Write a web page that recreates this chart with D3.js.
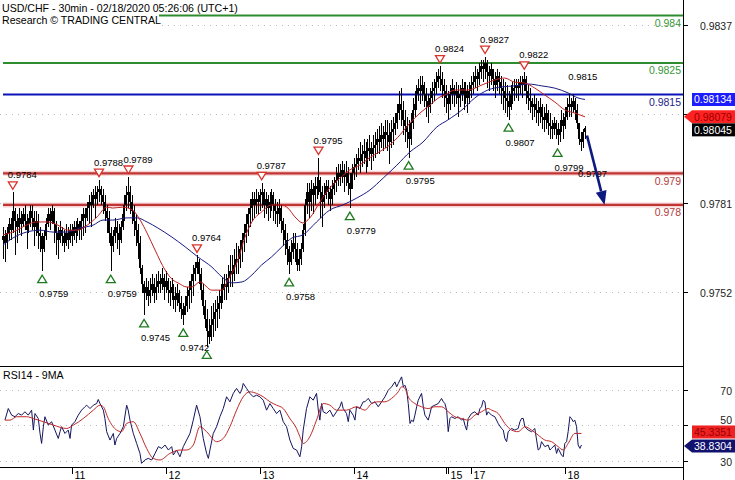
<!DOCTYPE html>
<html><head><meta charset="utf-8">
<script src="https://cdn.jsdelivr.net/npm/d3@7"></script>
<style>body{margin:0;background:#fff}svg{display:block}text{font-family:"Liberation Sans",Arial,sans-serif}</style>
</head><body><svg id="c" width="735" height="480"></svg>
<script>
// ---- 30-min USD/CHF bars ----
const opens=[0.9769,0.9770,0.9768,0.9771,0.9774,0.9772,0.9778,0.9775,0.9773,0.9776,
0.9774,0.9777,0.9775,0.9772,0.9774,0.9778,0.9776,0.9773,0.9775,0.9771,
0.9770,0.9766,0.9770,0.9774,0.9777,0.9775,0.9778,0.9774,0.9771,0.9769,
0.9772,0.9770,0.9768,0.9771,0.9769,0.9772,0.9770,0.9773,0.9771,0.9774,
0.9772,0.9775,0.9777,0.9776,0.9779,0.9781,0.9780,0.9783,0.9782,0.9784,
0.9785,0.9783,0.9781,0.9778,0.9776,0.9771,0.9767,0.9770,0.9773,0.9771,
0.9769,0.9773,0.9777,0.9780,0.9783,0.9784,0.9781,0.9778,0.9775,0.9772,
0.9768,0.9760,0.9755,0.9752,0.9754,0.9751,0.9753,0.9755,0.9752,0.9754,
0.9756,0.9755,0.9757,0.9754,0.9756,0.9753,0.9752,0.9754,0.9751,0.9750,
0.9752,0.9749,0.9747,0.9745,0.9748,0.9751,0.9753,0.9756,0.9758,0.9760,
0.9762,0.9758,0.9753,0.9748,0.9744,0.9740,0.9738,0.9742,0.9744,0.9746,
0.9747,0.9749,0.9751,0.9753,0.9755,0.9754,0.9757,0.9759,0.9758,0.9761,
0.9763,0.9763,0.9766,0.9769,0.9771,0.9774,0.9777,0.9779,0.9782,0.9780,
0.9782,0.9781,0.9783,0.9784,0.9780,0.9782,0.9779,0.9781,0.9783,0.9780,
0.9778,0.9777,0.9779,0.9775,0.9772,0.9769,0.9766,0.9762,0.9765,0.9768,
0.9766,0.9761,0.9763,0.9766,0.9772,0.9780,0.9784,0.9781,0.9785,0.9783,
0.9786,0.9785,0.9788,0.9784,0.9781,0.9783,0.9786,0.9784,0.9782,0.9785,
0.9787,0.9788,0.9790,0.9789,0.9791,0.9789,0.9790,0.9787,0.9785,0.9790,
0.9792,0.9793,0.9795,0.9794,0.9796,0.9797,0.9795,0.9797,0.9798,0.9796,
0.9798,0.9799,0.9801,0.9800,0.9802,0.9801,0.9803,0.9802,0.9800,0.9803,
0.9804,0.9806,0.9809,0.9812,0.9810,0.9807,0.9805,0.9803,0.9801,0.9806,
0.9810,0.9812,0.9815,0.9817,0.9816,0.9818,0.9815,0.9813,0.9811,0.9814,
0.9816,0.9817,0.9819,0.9821,0.9820,0.9818,0.9816,0.9814,0.9812,0.9815,
0.9817,0.9815,0.9816,0.9814,0.9815,0.9817,0.9815,0.9816,0.9814,0.9816,
0.9818,0.9819,0.9821,0.9820,0.9822,0.9824,0.9823,0.9825,0.9822,0.9821,
0.9823,0.9820,0.9818,0.9821,0.9819,0.9817,0.9816,0.9814,0.9813,0.9811,
0.9815,0.9816,0.9817,0.9818,0.9817,0.9819,0.9818,0.9820,0.9816,0.9814,
0.9813,0.9811,0.9812,0.9810,0.9809,0.9811,0.9808,0.9807,0.9809,0.9806,
0.9805,0.9804,0.9806,0.9804,0.9802,0.9804,0.9807,0.9805,0.9808,0.9811,
0.9812,0.9811,0.9813,0.9810,0.9806,0.9801,0.9800,0.9803];
const highs=[0.9773,0.9772,0.9773,0.9776,0.9776,0.9784,0.9779,0.9777,0.9779,0.9778,
0.9779,0.9780,0.9777,0.9776,0.9780,0.9780,0.9778,0.9778,0.9777,0.9773,
0.9771,0.9772,0.9776,0.9779,0.9779,0.9780,0.9779,0.9775,0.9773,0.9775,
0.9773,0.9772,0.9774,0.9773,0.9774,0.9774,0.9775,0.9775,0.9776,0.9775,
0.9777,0.9779,0.9779,0.9781,0.9783,0.9784,0.9785,0.9786,0.9786,0.9788,
0.9786,0.9785,0.9783,0.9780,0.9778,0.9773,0.9772,0.9776,0.9775,0.9774,
0.9775,0.9779,0.9783,0.9786,0.9789,0.9786,0.9783,0.9780,0.9777,0.9774,
0.9770,0.9761,0.9756,0.9757,0.9756,0.9757,0.9758,0.9757,0.9758,0.9759,
0.9758,0.9760,0.9758,0.9759,0.9757,0.9756,0.9757,0.9755,0.9754,0.9755,
0.9753,0.9751,0.9749,0.9751,0.9754,0.9756,0.9758,0.9761,0.9762,0.9764,
0.9763,0.9760,0.9755,0.9750,0.9747,0.9744,0.9748,0.9749,0.9750,0.9751,
0.9753,0.9755,0.9757,0.9758,0.9758,0.9761,0.9764,0.9764,0.9766,0.9768,
0.9767,0.9769,0.9771,0.9774,0.9777,0.9779,0.9782,0.9784,0.9784,0.9785,
0.9784,0.9785,0.9787,0.9785,0.9784,0.9783,0.9784,0.9785,0.9784,0.9782,
0.9781,0.9782,0.9780,0.9776,0.9774,0.9771,0.9767,0.9769,0.9771,0.9771,
0.9768,0.9766,0.9768,0.9774,0.9782,0.9787,0.9787,0.9788,0.9787,0.9789,
0.9789,0.9795,0.9789,0.9786,0.9787,0.9788,0.9788,0.9786,0.9788,0.9789,
0.9792,0.9793,0.9793,0.9794,0.9793,0.9794,0.9792,0.9790,0.9793,0.9795,
0.9796,0.9798,0.9800,0.9799,0.9801,0.9800,0.9801,0.9802,0.9800,0.9802,
0.9803,0.9804,0.9805,0.9806,0.9805,0.9807,0.9807,0.9806,0.9807,0.9808,
0.9809,0.9812,0.9816,0.9817,0.9813,0.9810,0.9808,0.9807,0.9809,0.9814,
0.9816,0.9818,0.9820,0.9821,0.9821,0.9819,0.9817,0.9815,0.9817,0.9819,
0.9820,0.9822,0.9823,0.9824,0.9822,0.9820,0.9818,0.9816,0.9818,0.9820,
0.9818,0.9819,0.9818,0.9818,0.9820,0.9819,0.9819,0.9818,0.9819,0.9821,
0.9822,0.9824,0.9823,0.9825,0.9826,0.9826,0.9827,0.9826,0.9824,0.9825,
0.9823,0.9822,0.9823,0.9822,0.9821,0.9820,0.9819,0.9818,0.9816,0.9818,
0.9819,0.9820,0.9820,0.9820,0.9821,0.9821,0.9822,0.9821,0.9818,0.9817,
0.9814,0.9815,0.9814,0.9813,0.9814,0.9812,0.9811,0.9812,0.9810,0.9809,
0.9807,0.9808,0.9807,0.9806,0.9807,0.9810,0.9809,0.9811,0.9814,0.9815,
0.9814,0.9815,0.9814,0.9812,0.9806,0.9803,0.9804,0.9805];
const lows=[0.9763,0.9762,0.9766,0.9769,0.9769,0.9771,0.9764,0.9768,0.9771,0.9770,
0.9773,0.9772,0.9766,0.9771,0.9773,0.9772,0.9767,0.9770,0.9766,0.9765,
0.9759,0.9765,0.9769,0.9773,0.9772,0.9774,0.9768,0.9764,0.9763,0.9768,
0.9767,0.9765,0.9767,0.9766,0.9768,0.9767,0.9769,0.9768,0.9770,0.9769,
0.9769,0.9770,0.9771,0.9775,0.9774,0.9773,0.9779,0.9776,0.9780,0.9781,
0.9780,0.9777,0.9775,0.9771,0.9768,0.9759,0.9765,0.9768,0.9766,0.9764,
0.9768,0.9772,0.9775,0.9778,0.9779,0.9777,0.9774,0.9770,0.9767,0.9763,
0.9758,0.9752,0.9745,0.9750,0.9748,0.9749,0.9751,0.9749,0.9750,0.9752,
0.9752,0.9753,0.9750,0.9752,0.9749,0.9748,0.9750,0.9747,0.9746,0.9748,
0.9746,0.9744,0.9742,0.9745,0.9746,0.9747,0.9749,0.9751,0.9756,0.9758,
0.9755,0.9750,0.9745,0.9741,0.9735,0.9736,0.9737,0.9738,0.9740,0.9741,
0.9744,0.9747,0.9749,0.9750,0.9750,0.9752,0.9754,0.9754,0.9756,0.9758,
0.9758,0.9760,0.9762,0.9765,0.9768,0.9770,0.9773,0.9775,0.9776,0.9777,
0.9777,0.9778,0.9779,0.9776,0.9777,0.9775,0.9776,0.9778,0.9775,0.9774,
0.9773,0.9774,0.9771,0.9767,0.9764,0.9761,0.9758,0.9761,0.9763,0.9762,
0.9759,0.9759,0.9761,0.9765,0.9770,0.9777,0.9776,0.9778,0.9777,0.9780,
0.9782,0.9783,0.9776,0.9773,0.9779,0.9782,0.9780,0.9778,0.9780,0.9783,
0.9784,0.9786,0.9786,0.9787,0.9784,0.9786,0.9783,0.9779,0.9785,0.9788,
0.9789,0.9791,0.9790,0.9792,0.9793,0.9790,0.9792,0.9794,0.9791,0.9794,
0.9795,0.9796,0.9796,0.9798,0.9797,0.9798,0.9797,0.9793,0.9798,0.9799,
0.9802,0.9804,0.9807,0.9805,0.9802,0.9800,0.9798,0.9795,0.9799,0.9804,
0.9808,0.9810,0.9813,0.9812,0.9813,0.9811,0.9808,0.9806,0.9809,0.9812,
0.9813,0.9815,0.9817,0.9816,0.9814,0.9811,0.9809,0.9807,0.9810,0.9812,
0.9811,0.9812,0.9808,0.9811,0.9813,0.9810,0.9812,0.9809,0.9812,0.9814,
0.9815,0.9817,0.9816,0.9818,0.9820,0.9819,0.9820,0.9817,0.9816,0.9818,
0.9816,0.9814,0.9816,0.9815,0.9812,0.9810,0.9809,0.9808,0.9807,0.9810,
0.9812,0.9813,0.9814,0.9813,0.9815,0.9814,0.9816,0.9812,0.9810,0.9809,
0.9807,0.9808,0.9806,0.9805,0.9806,0.9804,0.9803,0.9804,0.9802,0.9801,
0.9801,0.9802,0.9801,0.9799,0.9800,0.9803,0.9801,0.9804,0.9807,0.9808,
0.9808,0.9809,0.9807,0.9804,0.9799,0.9797,0.9798,0.9801];
const closes=[0.9770,0.9768,0.9771,0.9774,0.9772,0.9778,0.9775,0.9773,0.9776,0.9774,
0.9777,0.9775,0.9772,0.9774,0.9778,0.9776,0.9773,0.9775,0.9771,0.9770,
0.9766,0.9770,0.9774,0.9777,0.9775,0.9778,0.9774,0.9771,0.9769,0.9772,
0.9770,0.9768,0.9771,0.9769,0.9772,0.9770,0.9773,0.9771,0.9774,0.9772,
0.9775,0.9777,0.9776,0.9779,0.9781,0.9780,0.9783,0.9782,0.9784,0.9785,
0.9783,0.9781,0.9778,0.9776,0.9771,0.9767,0.9770,0.9773,0.9771,0.9769,
0.9773,0.9777,0.9780,0.9783,0.9784,0.9781,0.9778,0.9775,0.9772,0.9768,
0.9760,0.9755,0.9752,0.9754,0.9751,0.9753,0.9755,0.9752,0.9754,0.9756,
0.9755,0.9757,0.9754,0.9756,0.9753,0.9752,0.9754,0.9751,0.9750,0.9752,
0.9749,0.9747,0.9745,0.9748,0.9751,0.9753,0.9756,0.9758,0.9760,0.9762,
0.9758,0.9753,0.9748,0.9744,0.9740,0.9738,0.9742,0.9744,0.9746,0.9747,
0.9749,0.9751,0.9753,0.9755,0.9754,0.9757,0.9759,0.9758,0.9761,0.9763,
0.9763,0.9766,0.9769,0.9771,0.9774,0.9777,0.9779,0.9782,0.9780,0.9782,
0.9781,0.9783,0.9784,0.9780,0.9782,0.9779,0.9781,0.9783,0.9780,0.9778,
0.9777,0.9779,0.9775,0.9772,0.9769,0.9766,0.9762,0.9765,0.9768,0.9766,
0.9761,0.9763,0.9766,0.9772,0.9780,0.9784,0.9781,0.9785,0.9783,0.9786,
0.9785,0.9788,0.9784,0.9781,0.9783,0.9786,0.9784,0.9782,0.9785,0.9787,
0.9788,0.9790,0.9789,0.9791,0.9789,0.9790,0.9787,0.9785,0.9790,0.9792,
0.9793,0.9795,0.9794,0.9796,0.9797,0.9795,0.9797,0.9798,0.9796,0.9798,
0.9799,0.9801,0.9800,0.9802,0.9801,0.9803,0.9802,0.9800,0.9803,0.9804,
0.9806,0.9809,0.9812,0.9810,0.9807,0.9805,0.9803,0.9801,0.9806,0.9810,
0.9812,0.9815,0.9817,0.9816,0.9818,0.9815,0.9813,0.9811,0.9814,0.9816,
0.9817,0.9819,0.9821,0.9820,0.9818,0.9816,0.9814,0.9812,0.9815,0.9817,
0.9815,0.9816,0.9814,0.9815,0.9817,0.9815,0.9816,0.9814,0.9816,0.9818,
0.9819,0.9821,0.9820,0.9822,0.9824,0.9823,0.9825,0.9822,0.9821,0.9823,
0.9820,0.9818,0.9821,0.9819,0.9817,0.9816,0.9814,0.9813,0.9811,0.9815,
0.9816,0.9817,0.9818,0.9817,0.9819,0.9818,0.9820,0.9816,0.9814,0.9813,
0.9811,0.9812,0.9810,0.9809,0.9811,0.9808,0.9807,0.9809,0.9806,0.9805,
0.9804,0.9806,0.9804,0.9802,0.9804,0.9807,0.9805,0.9808,0.9811,0.9812,
0.9811,0.9813,0.9810,0.9806,0.9801,0.9800,0.9803,0.98045];

// moving averages on price: [bar index, value]
const maRed=[[0,0.97705],[5,0.97714],[12,0.97736],[17,0.97746],[23,0.97746],[28,0.97736],[33,0.97720],[38,0.97720],[43,0.97736],[48,0.97762],[53,0.97793],[56,0.97790],[61,0.97793],[66,0.97784],[70,0.97752],[73.5,0.97711],[77.6,0.97657],[82.7,0.97594],[86.7,0.97562],[89.3,0.97553],[93.9,0.97540],[96.4,0.97540],[100.5,0.97556],[106.6,0.97530],[111.7,0.97530],[114.8,0.97562],[119.9,0.97626],[123.5,0.97698],[127,0.97746],[132,0.97778],[137,0.97800],[142,0.97800],[145.4,0.97790],[149,0.97762],[153,0.97743],[156.6,0.97759],[161.7,0.97809],[166.8,0.97854],[172,0.97885],[177,0.97911],[182,0.97926],[187,0.97949],[192,0.97968],[197.4,0.97990],[202.6,0.98022],[207.7,0.98060],[212.8,0.98091],[218,0.98117],[223,0.98142],[225.5,0.98148],[230.6,0.98164],[237.2,0.98164],[244.4,0.98180],[251,0.98196],[256,0.98202],[261,0.98189],[266.3,0.98186],[271.4,0.98170],[276.5,0.98148],[281.6,0.98126],[286.7,0.98101],[291.8,0.98091],[297,0.98079]];
const maNavy=[[0,0.97673],[5,0.97695],[12,0.97714],[19,0.97720],[25.5,0.97714],[32.7,0.97714],[39.3,0.97727],[46,0.97736],[51,0.97752],[56,0.97752],[63.3,0.97759],[68.4,0.97759],[73.5,0.97746],[79,0.97727],[86.2,0.97698],[93,0.97667],[99.5,0.97635],[106.6,0.97603],[111.7,0.97572],[116.8,0.97553],[122,0.97556],[127,0.97578],[132,0.97610],[137,0.97635],[142.3,0.97667],[147.4,0.97695],[153,0.97705],[160,0.97746],[166.8,0.97784],[173.5,0.97800],[180.6,0.97822],[187.2,0.97847],[194,0.97885],[201,0.97926],[207.7,0.97968],[214.3,0.97999],[221.4,0.98047],[227,0.98069],[234.2,0.98101],[240.8,0.98139],[247.4,0.98164],[254.6,0.98174],[261.2,0.98177],[268,0.98183],[275,0.98177],[281.6,0.98170],[288.3,0.98155],[293.4,0.98139],[297,0.98134]];

// RSI14 and its 9MA: [bar index, value]
const rsi=[[1,52.8],[2.7,59.3],[4.4,55.6],[6.1,54.7],[7.8,56.5],[9.5,55.6],[11.2,57.5],[12.9,55.6],[14.6,58.4],[15.5,47.2],[16.3,56.5],[18,53.7],[18.9,45.3],[19.7,39.7],[20.6,49.1],[21.4,54.7],[23.1,50],[24.8,51.9],[26.5,47.2],[28.2,42.5],[29.1,46.3],[29.9,49.1],[31.6,45.3],[33.3,47.2],[34.2,42.5],[35,50],[36.7,51.9],[38.4,55.6],[40.1,58.4],[41.8,60.3],[42.7,61.2],[44.4,59.3],[46.1,61.2],[47.8,62.1],[48.6,64.4],[49.5,62.1],[51.2,58.4],[52,53.7],[52.9,46.3],[54.6,41.6],[56.3,45.3],[57.1,38.8],[58,42.5],[59.7,45.3],[61.4,49.1],[63.1,61.2],[63.9,58.4],[64.8,52.8],[66.5,45.3],[68.2,39.7],[69.9,34.1],[70.7,28.5],[72.4,30.4],[74.1,31.3],[75.9,30.4],[77.6,34.1],[79.3,37.9],[81,36.9],[82.7,38.8],[84.4,36],[86.1,37.9],[86.9,33.2],[88.6,36],[90.3,32.2],[92,37.9],[93.7,41.6],[95.4,45.3],[97.1,52.8],[98.8,61.2],[100.5,54.7],[102.2,42.5],[103.9,34.1],[104.8,31.3],[105.6,36],[107.3,45.3],[109,49.1],[110.7,54.7],[112.4,59.3],[114.1,65.9],[115.8,63.1],[117.5,67.8],[119.2,70.6],[120.9,67.8],[121.8,69.6],[122.6,73.4],[124.3,70.6],[126,67.8],[127.7,65.9],[129.4,66.8],[131.1,65.9],[132.8,64],[134.5,58.4],[136.2,62.1],[137.9,59.3],[139.6,56.5],[141.3,58.4],[143,51.9],[144.7,49.1],[146.4,41.6],[148.1,36.9],[149.8,36],[151.5,32.2],[152.4,37.9],[153.2,47.2],[154.9,59.3],[156.6,65.9],[158.3,64],[160,67.8],[160.9,58.4],[161.7,52.8],[162.6,62.1],[163.4,57.5],[165.1,56.5],[166.8,58.4],[168.5,54.7],[170.2,57.5],[171.9,60.3],[172.8,63.1],[173.6,59.3],[175.3,56.5],[176.2,51.9],[177,58.4],[178.7,55.6],[179.6,52.8],[180.4,60.3],[182.1,59.3],[183.8,63.1],[184.7,63.1],[186.4,65],[188.1,62.1],[189.8,63.1],[191.5,60.3],[193.2,63.1],[194.9,65.9],[196.6,69.6],[198.3,71.5],[200,74.3],[200.9,71.5],[201.7,73.4],[203.4,77.1],[204.3,71.5],[205.1,72.4],[206,69.6],[206.8,62.1],[207.7,50.9],[208.5,52.8],[209.4,51.9],[210.2,55.6],[211.1,60.3],[211.9,64],[213.6,67.8],[214.5,60.3],[215.3,55.6],[217,52.8],[217.9,56.5],[218.7,60.3],[220.4,61.2],[222.1,62.1],[223.8,65],[224.7,63.1],[225.5,62.1],[226.4,58.4],[227.2,46.3],[228.1,53.7],[228.9,54.7],[230.6,53.7],[232.3,54.7],[234,52.8],[234.9,53.7],[235.7,50],[236.6,47.2],[237.4,53.7],[239.1,56.5],[240.8,57.5],[242.5,55.6],[243.4,59.3],[244.2,60.3],[245.1,64],[245.9,63.1],[246.8,55.6],[247.6,57.5],[249.3,55.6],[251,54.7],[252.7,50.9],[254.4,48.1],[255.3,47.2],[256.1,42.5],[257,40.7],[257.8,46.3],[259.5,48.1],[261.2,47.2],[262.9,48.1],[263.8,51.9],[264.6,53.7],[265.5,53.7],[266.3,49.1],[268,47.2],[269.7,46.3],[271.4,48.1],[272.3,41.6],[273.1,36],[274,36.9],[274.8,40.7],[276.5,37.9],[278.2,38.8],[279.1,36],[279.9,36.9],[281.6,38.8],[282.5,34.1],[283.3,36.9],[285,33.2],[285.9,32.2],[286.7,39.7],[287.6,40.7],[288.4,46.3],[289.3,54.7],[290.1,53.7],[291,51.9],[291.8,52.8],[292.7,49.1],[293.5,38.8],[294.4,36.9],[295.2,38.8304]];
const rsiMA=[[1,52.8],[3.6,52.8],[7,54.7],[12.1,54.7],[15.5,53.7],[20.6,51.9],[25.7,50],[32.5,48.1],[35.9,50],[41,53.7],[46.1,58.4],[49.5,61.2],[51.2,60.3],[53.7,53.7],[58,47.2],[60.5,46.3],[63.1,50.9],[66.5,51.9],[69.9,45.3],[73.3,36.9],[76.7,31.3],[80.1,30.4],[85.2,34.1],[90.3,36],[93.7,36],[97.1,38.8],[100.5,49.1],[103.9,46.3],[109,40.7],[112.4,42.5],[115.8,49.1],[119.2,58.4],[122.6,65.9],[126,68.7],[129.4,67.8],[132.8,65.9],[136.2,63.1],[139.6,61.2],[143,59.3],[146.4,53.7],[149.8,48.1],[151.5,43.5],[153.2,39.7],[156.6,43.5],[160,52.8],[163.4,62.1],[166.8,61.2],[170.2,58.4],[175.3,58.4],[180.4,60.3],[184.7,58.4],[188.1,62.1],[191.5,63.1],[194.9,63.1],[198.3,65],[201.7,68.7],[203.4,71.5],[205.1,70.6],[206.8,65.9],[210.2,62.1],[213.6,60.3],[217,59.3],[220.4,60.3],[223.8,60.3],[227.2,57.5],[230.6,54.7],[234,53.7],[237.4,52.8],[240.8,55.6],[244.2,57.5],[247.6,59.3],[249.3,58.4],[252.7,56.5],[256.1,50.9],[259.5,47.2],[262.9,46.3],[266.3,49.1],[269.7,47.2],[273.1,44.4],[276.5,41.6],[279.9,40.7],[283.3,37.9],[285.9,36],[288.4,39.7],[291.8,45.3],[295.2,45.3351]];

// horizontal key levels
const levelValues=[0.984,0.9825,0.9815,0.979,0.978];
const levelKinds=["res","res","piv","sup","sup"];
// swing markers: bar index and type (h = high, l = low); noTri = label only
const markers=[{i:5,t:"h"},{i:20,t:"l"},{i:49,t:"h"},{i:55,t:"l"},{i:64,t:"h"},{i:72,t:"l"},{i:92,t:"l"},{i:99,t:"h"},{i:104,t:"l"},{i:132,t:"h"},{i:146,t:"l"},{i:161,t:"h"},{i:177,t:"l"},{i:207,t:"l"},{i:223,t:"h"},{i:246,t:"h"},{i:258,t:"l"},{i:266,t:"h"},{i:283,t:"l"},{i:291,t:"h",noTri:true},{i:295,t:"l",noTri:true}];
// projected path
const forecast=[[298,0.9802],[307,0.9780]];
// axes
const priceTicks=[0.98370,0.98088,0.97806,0.97524];
const priceTickLabels=["0.9837","","0.9781","0.9752"]; // middle label is hidden behind the value tags
const rsiTicks=[70,50,30];
const dayTickBars=[35,83,131,179,226,227,239,287];
const dayTickLabels=["11","12","13","14","","15","17","18"];
const titleLines=["USD/CHF - 30min - 02/18/2020 05:26:06 (UTC+1)","Research \u00A9 TRADING CENTRAL"];

// ---- drawing ----
const svg=d3.select("#c");
const R=683, mainBot=366, rsiTop=367, rsiBot=467;
const x=d3.scaleLinear().domain([0,297]).range([3,585]);
const y=d3.scaleLinear().domain([0.9837,0.9752]).range([25,293.3]);
const ry=d3.scaleLinear().domain([30,70]).range([460.7,389.5]);
const defs=svg.append("defs");
defs.append("clipPath").attr("id","cm").append("rect").attr("x",0).attr("y",0).attr("width",R).attr("height",mainBot);
defs.append("clipPath").attr("id","cr").append("rect").attr("x",0).attr("y",rsiTop).attr("width",R).attr("height",rsiBot-rsiTop);
svg.append("rect").attr("width",735).attr("height",480).attr("fill","#fff");

const main=svg.append("g").attr("clip-path","url(#cm)");
// grid
main.selectAll("line.g").data(priceTicks).join("line").attr("x1",0).attr("x2",R)
 .attr("y1",d=>Math.round(y(d))+0.5).attr("y2",d=>Math.round(y(d))+0.5)
 .attr("stroke","#b8b8b8").attr("stroke-dasharray","1,5");
// level lines
const lvCol={res:"#2e8b2e",piv:"#0b12b8",sup:"#c03434"};
const lvLab={res:"#379637",piv:"#1e1e8a",sup:"#b23a3a"};
levelValues.forEach((v,k)=>{
  const kind=levelKinds[k], yy=y(v);
  if(kind==="sup") main.append("line").attr("x1",3).attr("x2",R).attr("y1",yy).attr("y2",yy).attr("stroke","#f6d2d2").attr("stroke-width",5);
  main.append("line").attr("x1",3).attr("x2",R).attr("y1",yy).attr("y2",yy).attr("stroke",lvCol[kind]).attr("stroke-width",kind==="sup"?2.4:2);
  main.append("text").attr("x",681).attr("y",yy+11.5).attr("text-anchor","end").attr("font-size","10.5px").attr("fill",lvLab[kind]).text(String(v));
});
// bars
const bars=main.append("g").attr("shape-rendering","crispEdges");
closes.forEach((c,i)=>{
  const xc=Math.round(x(i)), o=opens[i];
  bars.append("rect").attr("x",xc).attr("y",y(highs[i])).attr("width",1).attr("height",Math.max(1,y(lows[i])-y(highs[i]))).attr("fill","#000");
  bars.append("rect").attr("x",xc-1).attr("y",y(Math.max(o,c))).attr("width",2).attr("height",Math.max(1,Math.abs(y(o)-y(c)))).attr("fill","#000");
});
// moving averages
const ln=d3.line().x(d=>x(d[0])).y(d=>y(d[1])).curve(d3.curveMonotoneX);
main.append("path").attr("d",ln(maNavy)).attr("fill","none").attr("stroke","#1a1a82").attr("stroke-width",1);
main.append("path").attr("d",ln(maRed)).attr("fill","none").attr("stroke","#c02020").attr("stroke-width",1);
// markers
const f4=d3.format(".4f");
markers.forEach(m=>{
  const cx=x(m.i);
  if(m.t==="h"){
    const hy=y(highs[m.i]), cy=hy-7;
    if(!m.noTri) main.append("path").attr("d",`M${cx-4.5},${cy-3.5}L${cx+4.5},${cy-3.5}L${cx},${cy+4}Z`).attr("fill","#fff").attr("stroke","#d8342c").attr("stroke-width",1.3);
    main.append("text").attr("x",cx-5).attr("y",hy-14).attr("font-size","9.5px").attr("fill","#000").text(f4(highs[m.i]));
  } else {
    const ly=y(lows[m.i]), cy=ly+8;
    if(!m.noTri) main.append("path").attr("d",`M${cx},${cy-4}L${cx-4.5},${cy+3.5}L${cx+4.5},${cy+3.5}Z`).attr("fill","#fff").attr("stroke","#1f7a1f").attr("stroke-width",1.3);
    main.append("text").attr("x",cx-3).attr("y",ly+26).attr("font-size","9.5px").attr("fill","#000").text(f4(lows[m.i]));
  }
});
// forecast arrow
const [p0,p1]=forecast.map(d=>[x(d[0]),y(d[1])]);
const ang=Math.atan2(p1[1]-p0[1],p1[0]-p0[0]);
const back=[p1[0]-14*Math.cos(ang),p1[1]-14*Math.sin(ang)];
main.append("line").attr("x1",p0[0]).attr("y1",p0[1]).attr("x2",back[0]).attr("y2",back[1]).attr("stroke","#0c1a80").attr("stroke-width",2.6);
const nx=-Math.sin(ang),ny=Math.cos(ang);
main.append("path").attr("d",`M${p1[0]},${p1[1]}L${back[0]+5.5*nx},${back[1]+5.5*ny}L${back[0]-5.5*nx},${back[1]-5.5*ny}Z`).attr("fill","#0c1a80");
// title
svg.append("rect").attr("x",0).attr("y",13).attr("width",159).attr("height",13).attr("fill","#fff");
titleLines.forEach((t,k)=>svg.append("text").attr("x",2).attr("y",11.5+k*12).attr("font-size","10.6px").attr("fill","#000").text(t));

// RSI panel
const rp=svg.append("g").attr("clip-path","url(#cr)");
rp.selectAll("line.g").data(rsiTicks).join("line").attr("x1",0).attr("x2",R)
 .attr("y1",d=>Math.round(ry(d))+0.5).attr("y2",d=>Math.round(ry(d))+0.5)
 .attr("stroke","#b8b8b8").attr("stroke-dasharray","1,5");
const rl=d3.line().x(d=>x(d[0])).y(d=>ry(d[1]));
rp.append("path").attr("d",rl(rsi)).attr("fill","none").attr("stroke","#14145e").attr("stroke-width",1);
rp.append("path").attr("d",d3.line().x(d=>x(d[0])).y(d=>ry(d[1])).curve(d3.curveMonotoneX)(rsiMA)).attr("fill","none").attr("stroke","#c02828").attr("stroke-width",1);
svg.append("text").attr("x",3).attr("y",379).attr("font-size","10.6px").attr("fill","#000").text("RSI14 - 9MA");

// frame
svg.append("line").attr("x1",0).attr("x2",R).attr("y1",366.5).attr("y2",366.5).attr("stroke","#000");
svg.append("line").attr("x1",0).attr("x2",R).attr("y1",467.5).attr("y2",467.5).attr("stroke","#000");
svg.append("line").attr("x1",R+0.5).attr("x2",R+0.5).attr("y1",0).attr("y2",480).attr("stroke","#000");

// right axis labels
priceTicks.forEach((v,k)=>{const yy=Math.round(y(v))+0.5;
  svg.append("line").attr("x1",R).attr("x2",R+5).attr("y1",yy).attr("y2",yy).attr("stroke","#000");
  if(priceTickLabels[k]) svg.append("text").attr("x",732).attr("y",yy+4).attr("text-anchor","end").attr("font-size","10.5px").attr("fill","#222").text(priceTickLabels[k]);});
rsiTicks.forEach(v=>{const yy=Math.round(ry(v))+0.5;
  svg.append("line").attr("x1",R).attr("x2",R+5).attr("y1",yy).attr("y2",yy).attr("stroke","#000");
  svg.append("text").attr("x",732).attr("y",v===50?yy-2:yy+4).attr("text-anchor","end").attr("font-size","10.5px").attr("fill","#222").text(v);});

// value tags
function tag(yc,txt,bg,fg,arrow){
  const g=svg.append("g");
  if(arrow) g.append("path").attr("d",`M${R+1},${yc}L${692},${yc-6.5}L735,${yc-6.5}L735,${yc+6.5}L692,${yc+6.5}Z`).attr("fill",bg);
  else g.append("rect").attr("x",692).attr("y",yc-6.5).attr("width",43).attr("height",13).attr("fill",bg);
  g.append("text").attr("x",694).attr("y",yc+4).attr("font-size","10.5px").attr("fill",fg).text(txt);
}
const f5=d3.format(".5f");
const lastRed=maRed[maRed.length-1][1], lastNavy=maNavy[maNavy.length-1][1], lastClose=closes[closes.length-1];
const yRed=y(lastRed);
const yNavy=Math.min(y(lastNavy),yRed-13.5), yClose=Math.max(y(lastClose),yRed+13);
tag(yNavy,f5(lastNavy),"#1c1cff","#fff",false);
tag(yRed,f5(lastRed),"#ff2222","#9a0000",true);
tag(yClose,f5(lastClose),"#000","#fff",false);
const lastRsi=rsi[rsi.length-1][1], lastRsiMA=rsiMA[rsiMA.length-1][1];
const yRM=Math.min(ry(lastRsiMA),ry(lastRsi)-14)+1;
tag(yRM,d3.format(".4f")(lastRsiMA),"#ee2222","#9a0000",false);
tag(ry(lastRsi)+1,d3.format(".4f")(lastRsi),"#12126e","#fff",true);

// x axis day ticks
dayTickBars.forEach((b,k)=>{const xx=Math.round(x(b))+0.5;
  svg.append("line").attr("x1",xx).attr("x2",xx).attr("y1",468).attr("y2",474).attr("stroke","#000");
  if(dayTickLabels[k]) svg.append("text").attr("x",xx+2).attr("y",478.5).attr("font-size","10.6px").attr("fill","#000").text(dayTickLabels[k]);});
</script></body></html>
